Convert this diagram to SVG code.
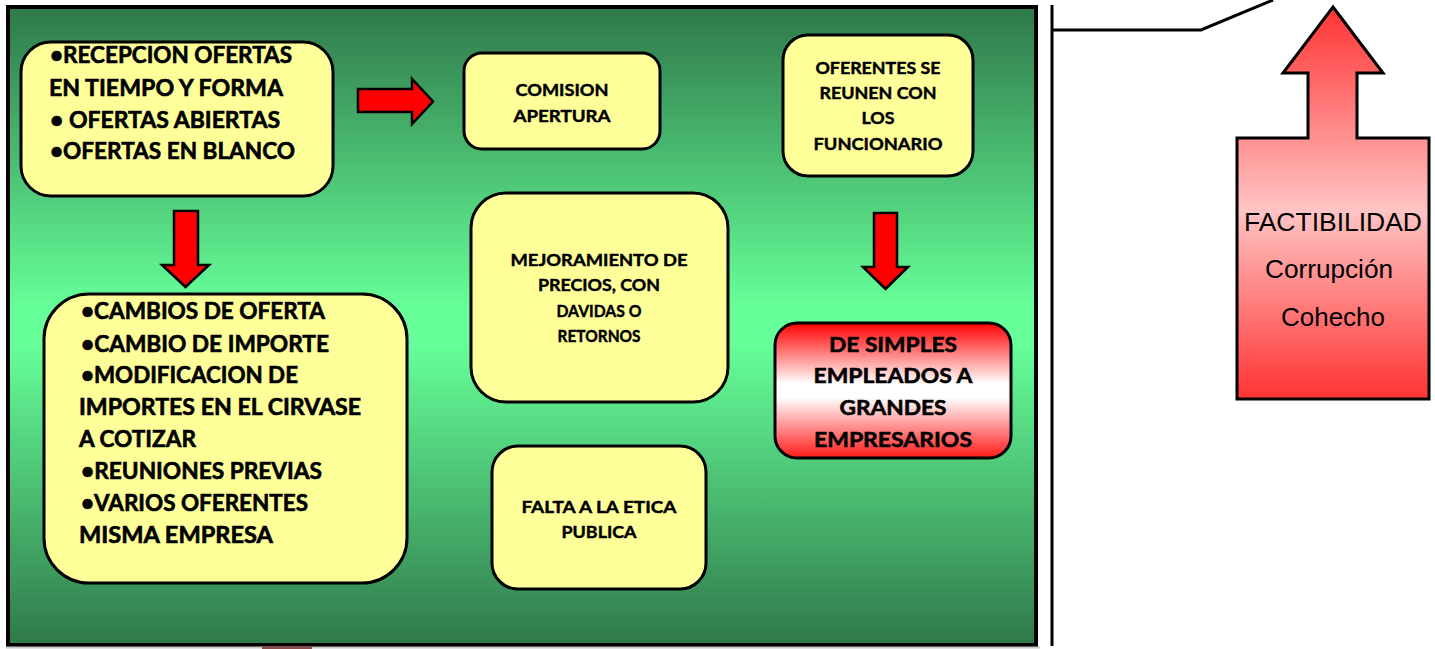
<svg xmlns="http://www.w3.org/2000/svg" width="1435" height="649" viewBox="0 0 1435 649">
<defs>
<linearGradient id="gPanel" x1="0" y1="0" x2="0" y2="1">
<stop offset="0" stop-color="#2f784a"/>
<stop offset="0.47" stop-color="#66ff99"/>
<stop offset="0.53" stop-color="#66ff99"/>
<stop offset="1" stop-color="#2f784a"/>
</linearGradient>
<linearGradient id="gRedWhite" x1="0" y1="0" x2="0" y2="1">
<stop offset="0" stop-color="#ff0000"/>
<stop offset="0.45" stop-color="#ffffff"/>
<stop offset="0.55" stop-color="#ffffff"/>
<stop offset="1" stop-color="#ff1a1a"/>
</linearGradient>
<linearGradient id="gUp" x1="0" y1="0" x2="0" y2="1">
<stop offset="0" stop-color="#ff3333"/>
<stop offset="0.52" stop-color="#ffc4c4"/>
<stop offset="1" stop-color="#ff3333"/>
</linearGradient>
<style>
.box{fill:#ffff99;stroke:#000;stroke-width:3}
.arr{fill:#ff0000;stroke:#000;stroke-width:2.5;stroke-linejoin:miter}
.big{font-family:Lato,"Open Sans","Liberation Sans",sans-serif;font-weight:700;font-size:22px;fill:#000;stroke:#000;stroke-width:0.6}
.sm{font-family:Lato,"Open Sans","Liberation Sans",sans-serif;font-weight:700;font-size:17px;fill:#000;text-anchor:middle;stroke:#000;stroke-width:0.45}
.md{font-family:Lato,"Open Sans","Liberation Sans",sans-serif;font-weight:700;font-size:21px;fill:#000;text-anchor:middle;stroke:#000;stroke-width:0.55}
.ar{font-family:"Liberation Sans",Arial,sans-serif;font-size:26px;fill:#000;text-anchor:middle}
</style>
</defs>
<rect width="1435" height="649" fill="#ffffff"/>
<g id="panel">
<rect x="8" y="7" width="1028" height="638" fill="url(#gPanel)" stroke="#000" stroke-width="4"/>
<line x1="6" y1="647.5" x2="1040" y2="647.5" stroke="#c8c8c8" stroke-width="2"/>
<rect x="262" y="646.5" width="50" height="2.5" fill="#8a4a4a"/>
</g>
<g id="frame-lines" fill="none" stroke="#000" stroke-width="3">
<polyline points="1052,5 1052,646"/>
<polyline points="1052,30 1201,30 1273,0"/>
</g>
<g id="n-recepcion">
<rect class="box" x="21" y="42" width="312" height="154" rx="30"/>
<text class="big" x="50" y="63" textLength="242" lengthAdjust="spacingAndGlyphs">•RECEPCION OFERTAS</text>
<text class="big" x="49" y="96" textLength="234" lengthAdjust="spacingAndGlyphs">EN TIEMPO Y FORMA</text>
<text class="big" x="50" y="128" textLength="230" lengthAdjust="spacingAndGlyphs">• OFERTAS ABIERTAS</text>
<text class="big" x="50" y="159" textLength="245" lengthAdjust="spacingAndGlyphs">•OFERTAS EN BLANCO</text>
</g>
<g id="n-comision">
<rect class="box" x="464" y="53" width="196" height="96" rx="18"/>
<text class="sm" x="562" y="96" textLength="93" lengthAdjust="spacingAndGlyphs">COMISION</text>
<text class="sm" x="562" y="122" textLength="97" lengthAdjust="spacingAndGlyphs">APERTURA</text>
</g>
<g id="n-oferentes">
<rect class="box" x="783" y="35" width="190" height="141" rx="25"/>
<text class="sm" x="878" y="74" textLength="125" lengthAdjust="spacingAndGlyphs">OFERENTES SE</text>
<text class="sm" x="878" y="99" textLength="117" lengthAdjust="spacingAndGlyphs">REUNEN CON</text>
<text class="sm" x="878" y="124" textLength="33" lengthAdjust="spacingAndGlyphs">LOS</text>
<text class="sm" x="878" y="150" textLength="129" lengthAdjust="spacingAndGlyphs">FUNCIONARIO</text>
</g>
<g id="n-cambios">
<rect class="box" x="44" y="294" width="363" height="289" rx="45"/>
<text class="big" x="81" y="319" textLength="244" lengthAdjust="spacingAndGlyphs">•CAMBIOS DE OFERTA</text>
<text class="big" x="81" y="352" textLength="248" lengthAdjust="spacingAndGlyphs">•CAMBIO DE IMPORTE</text>
<text class="big" x="81" y="383" textLength="217" lengthAdjust="spacingAndGlyphs">•MODIFICACION DE</text>
<text class="big" x="79" y="415" textLength="282" lengthAdjust="spacingAndGlyphs">IMPORTES EN EL CIRVASE</text>
<text class="big" x="79" y="447" textLength="117" lengthAdjust="spacingAndGlyphs">A COTIZAR</text>
<text class="big" x="81" y="479" textLength="241" lengthAdjust="spacingAndGlyphs">•REUNIONES PREVIAS</text>
<text class="big" x="81" y="511" textLength="227" lengthAdjust="spacingAndGlyphs">•VARIOS OFERENTES</text>
<text class="big" x="79" y="543" textLength="194" lengthAdjust="spacingAndGlyphs">MISMA EMPRESA</text>
</g>
<g id="n-mejoramiento">
<rect class="box" x="471" y="193" width="257" height="209" rx="35"/>
<text class="sm" x="599" y="266" textLength="177" lengthAdjust="spacingAndGlyphs">MEJORAMIENTO DE</text>
<text class="sm" x="599" y="291" textLength="122" lengthAdjust="spacingAndGlyphs">PRECIOS, CON</text>
<text class="sm" x="599" y="317" textLength="85" lengthAdjust="spacingAndGlyphs">DAVIDAS O</text>
<text class="sm" x="599" y="342" textLength="83" lengthAdjust="spacingAndGlyphs">RETORNOS</text>
</g>
<g id="n-falta">
<rect class="box" x="492" y="446" width="214" height="143" rx="26"/>
<text class="sm" x="599" y="513" textLength="155" lengthAdjust="spacingAndGlyphs">FALTA A LA ETICA</text>
<text class="sm" x="599" y="538" textLength="75" lengthAdjust="spacingAndGlyphs">PUBLICA</text>
</g>
<g id="n-simples">
<rect x="775" y="323" width="236" height="135" rx="22" fill="url(#gRedWhite)" stroke="#000" stroke-width="3"/>
<text class="md" x="893" y="352" textLength="128" lengthAdjust="spacingAndGlyphs">DE SIMPLES</text>
<text class="md" x="893" y="383" textLength="159" lengthAdjust="spacingAndGlyphs">EMPLEADOS A</text>
<text class="md" x="893" y="415" textLength="107" lengthAdjust="spacingAndGlyphs">GRANDES</text>
<text class="md" x="893" y="447" textLength="158" lengthAdjust="spacingAndGlyphs">EMPRESARIOS</text>
</g>
<g id="n-factibilidad">
<polygon points="1333,7 1383,73 1357,73 1357,138 1429,138 1429,399 1237,399 1237,138 1308,138 1308,73 1283,73" fill="url(#gUp)" stroke="#000" stroke-width="3"/>
<text class="ar" x="1333" y="231" textLength="178" lengthAdjust="spacingAndGlyphs">FACTIBILIDAD</text>
<text class="ar" x="1329" y="278" textLength="128" lengthAdjust="spacingAndGlyphs">Corrupción</text>
<text class="ar" x="1333" y="326" textLength="104" lengthAdjust="spacingAndGlyphs">Cohecho</text>
</g>
<g id="connectors">
<polygon class="arr" points="358,89 412,89 412,79 433,101.5 412,124 412,112 358,112"/>
<polygon class="arr" points="174,211 198,211 198,265 209,265 185.5,287 162,265 174,265"/>
<polygon class="arr" points="874,213 897,213 897,267 908,267 885.5,289 863,267 874,267"/>
</g>
</svg>
